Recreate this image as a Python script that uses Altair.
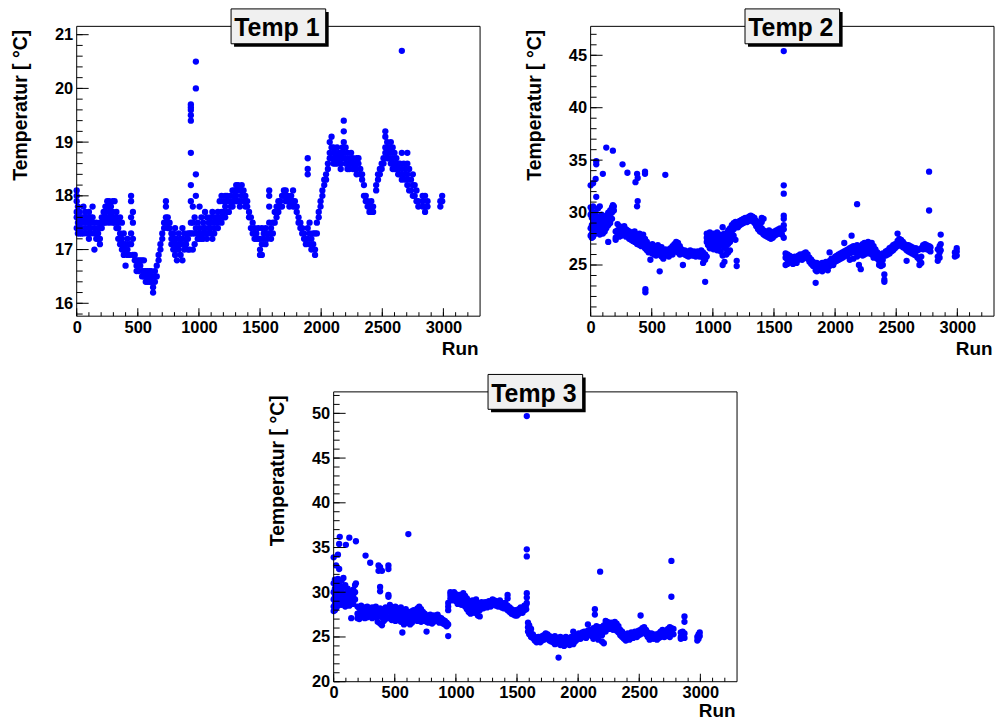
import altair as alt
import pandas as pd

BLUE = "#0000ff"
FONT = "Liberation Sans"

titles = ["Temp 1", "Temp 2", "Temp 3"]
x_title = "Run"
y_title = "Temperatur [ °C]"

x_major = [0, 500, 1000, 1500, 2000, 2500, 3000]
x_minor = list(range(0, 3300, 100))
x_domain = [0, 3300]

t1_major = [16, 17, 18, 19, 20, 21]
t1_minor = [round(15.8 + 0.2 * i, 1) for i in range(27)]
t1_domain = [15.76, 21.155]

t2_major = [25, 30, 35, 40, 45]
t2_minor = list(range(21, 48))
t2_domain = [20.12, 47.76]

t3_major = [20, 25, 30, 35, 40, 45, 50]
t3_minor = list(range(20, 53))
t3_domain = [20.0, 52.4]

# (run, [temperatures read at that run])
temp1_columns = [
    (0, [18.1, 18.0, 17.9, 17.7, 17.6, 17.4]), (10, [17.8, 17.6, 17.5, 17.3]),
    (25, [17.7, 17.5, 17.4, 17.3]), (40, [17.6, 17.4, 17.3]), (55, [17.8, 17.6, 17.5, 17.3]),
    (70, [17.7, 17.6, 17.4]), (85, [17.6, 17.5, 17.3]), (100, [17.7, 17.5, 17.4, 17.2]),
    (115, [17.6, 17.4, 17.3]), (130, [17.8, 17.6, 17.5]), (145, [17.4, 17.3, 17.0]),
    (160, [17.5, 17.3, 17.2]), (175, [17.4, 17.3, 17.2]), (190, [17.5, 17.4, 17.2, 17.1]),
    (205, [17.6, 17.5, 17.4]), (220, [17.7, 17.6, 17.5]), (235, [17.8, 17.7, 17.6, 17.5]),
    (250, [17.9, 17.8, 17.6]), (265, [17.9, 17.7, 17.5]), (280, [17.8, 17.7, 17.6]),
    (295, [17.9, 17.7, 17.5]), (310, [17.9, 17.6, 17.5]), (325, [17.7, 17.6, 17.4]),
    (340, [17.5, 17.4, 17.2]), (355, [17.6, 17.3, 17.1]), (370, [17.5, 17.2, 17.1, 17.0]),
    (385, [17.3, 17.1, 16.9]), (400, [17.1, 17.0, 16.7]), (415, [17.2, 17.0, 16.9]),
    (430, [17.1, 16.9]), (445, [18.0, 17.9, 17.6, 17.3, 17.1]), (460, [17.7, 17.5, 17.2, 16.9]),
    (475, [16.9, 16.8]), (490, [16.8, 16.7, 16.6]), (505, [16.8, 16.7, 16.6]),
    (520, [16.8, 16.7]), (535, [16.8, 16.6, 16.5]), (550, [16.8, 16.6, 16.5]),
    (565, [16.6, 16.5, 16.4]), (580, [16.6, 16.5, 16.4]), (595, [16.6, 16.5, 16.4]),
    (610, [16.6, 16.5, 16.4]), (625, [16.5, 16.3, 16.2]), (640, [16.6, 16.4]),
    (655, [16.7, 16.5]), (670, [16.9, 16.8]), (685, [17.1, 17.0]), (700, [17.3, 17.2]),
    (715, [17.5, 17.4]), (730, [17.9, 17.8, 17.6, 17.5]), (745, [17.6, 17.5, 17.4]),
    (760, [17.5, 17.4]), (775, [17.3, 17.2, 17.1]), (790, [17.3, 17.2, 17.0]),
    (805, [17.4, 17.2, 17.1, 16.9]), (820, [17.2, 17.0, 16.8]), (835, [17.3, 17.1, 17.0]),
    (850, [17.2, 17.1, 16.9]), (865, [17.4, 17.2, 16.8]), (880, [17.3, 17.1, 17.0]),
    (895, [17.2, 17.1]), (910, [17.3, 17.2, 17.0]), (925, [17.3, 17.0]),
    (934, [19.7, 19.65, 19.6, 19.5, 19.4, 18.8, 18.2, 17.9, 17.5, 17.3]),
    (950, [17.8, 17.5, 17.3, 17.0]), (965, [17.6, 17.3, 17.1]),
    (975, [20.5, 20.0, 18.4, 18.0, 17.4]), (990, [17.5, 17.3, 17.2]),
    (1005, [17.8, 17.4, 17.2]), (1020, [17.6, 17.3, 17.2]), (1035, [17.5, 17.4, 17.2]),
    (1050, [17.7, 17.4, 17.3]), (1065, [17.6, 17.3, 17.2]), (1080, [17.5, 17.4]),
    (1095, [17.6, 17.4, 17.3]), (1110, [17.7, 17.5, 17.2]), (1125, [17.6, 17.4, 17.3]),
    (1140, [17.6, 17.5]), (1155, [17.7, 17.5, 17.4]), (1170, [17.9, 17.6]),
    (1185, [18.0, 17.7, 17.5]), (1200, [17.9, 17.7, 17.6]), (1215, [18.0, 17.8, 17.6]),
    (1230, [18.0, 17.9, 17.7]), (1245, [17.9, 17.7]), (1260, [18.0, 17.8]),
    (1275, [18.1, 17.9, 17.8]), (1290, [18.1, 18.0, 17.9]), (1305, [18.2, 18.0, 17.9]),
    (1320, [18.2, 18.1, 17.9]), (1335, [18.1, 17.9, 17.8]), (1350, [18.2, 18.0]),
    (1365, [18.1, 17.9]), (1380, [18.0, 17.9, 17.8]), (1395, [17.9, 17.8]),
    (1410, [17.7, 17.6]), (1425, [17.6, 17.4]), (1440, [17.5, 17.3]), (1455, [17.4, 17.2]),
    (1470, [17.3, 17.2]), (1485, [17.4, 17.2]), (1500, [17.2, 17.0, 16.9]),
    (1515, [17.4, 17.1, 16.9]), (1530, [17.3, 17.2]), (1545, [17.4, 17.3, 17.1]),
    (1560, [17.3, 17.2]), (1575, [18.1, 18.0, 17.8, 17.5, 17.3]), (1590, [17.4, 17.2]),
    (1605, [17.5, 17.3]), (1620, [17.7, 17.5]), (1635, [17.8, 17.6]), (1650, [17.9, 17.7]),
    (1665, [17.9, 17.8]), (1680, [18.0, 17.8]), (1695, [18.1, 18.0]),
    (1710, [18.1, 18.0, 17.9]), (1725, [18.0, 17.9]), (1740, [17.9, 17.8]),
    (1755, [18.0, 17.9]), (1770, [18.1, 17.9, 17.8]), (1785, [17.9, 17.8]),
    (1800, [17.8, 17.7]), (1815, [17.6, 17.5]), (1830, [17.5, 17.4]), (1845, [17.4, 17.3]),
    (1860, [17.3, 17.2]), (1875, [17.2, 17.1]), (1890, [18.7, 18.5, 18.4, 17.4, 17.2]),
    (1905, [17.5, 17.3, 17.1]), (1920, [17.2, 17.0]), (1935, [17.3, 17.1]),
    (1950, [17.3, 17.0, 16.9]), (1965, [17.5, 17.3]), (1980, [17.7, 17.6]),
    (1995, [17.9, 17.8]), (2010, [18.1, 18.0]), (2025, [18.3, 18.2]), (2040, [18.4, 18.3]),
    (2055, [18.6, 18.5]), (2070, [19.0, 18.8, 18.7]), (2085, [19.1, 18.9, 18.7]),
    (2100, [18.9, 18.8, 18.6]), (2115, [18.8, 18.7, 18.6]), (2130, [18.9, 18.7, 18.6]),
    (2145, [18.8, 18.7]), (2160, [18.8, 18.6, 18.5]), (2175, [18.9, 18.8, 18.7]),
    (2185, [19.4, 19.2, 19.0, 18.8]), (2200, [18.9, 18.7, 18.6]), (2215, [18.8, 18.6, 18.5]),
    (2230, [18.7, 18.5]), (2245, [18.8, 18.6]), (2260, [18.7, 18.6, 18.5]),
    (2275, [18.6, 18.5]), (2290, [18.7, 18.5, 18.4]), (2305, [18.7, 18.6]),
    (2320, [18.5, 18.4]), (2335, [18.4, 18.3]), (2350, [18.2, 18.0]), (2365, [18.0, 17.9]),
    (2380, [17.9, 17.8]), (2395, [17.8, 17.7]), (2410, [17.9, 17.7]), (2425, [17.8, 17.7]),
    (2450, [18.1, 18.2]), (2465, [18.3, 18.4]), (2480, [18.5, 18.4]), (2495, [18.6, 18.5]),
    (2510, [18.7, 18.6]), (2525, [19.2, 19.1, 18.9, 18.8]), (2540, [19.0, 18.8, 18.7]),
    (2555, [18.9, 18.7]), (2570, [19.0, 18.8, 18.6]), (2585, [18.9, 18.7, 18.5]),
    (2600, [18.8, 18.6, 18.5]), (2615, [18.7, 18.5]), (2630, [18.6, 18.5, 18.4]),
    (2645, [18.6, 18.4]), (2660, [20.7, 18.8, 18.5, 18.3]), (2675, [18.6, 18.4]),
    (2690, [18.5, 18.3]), (2705, [18.8, 18.6, 18.4, 18.2]), (2720, [18.5, 18.3, 18.1]),
    (2735, [18.3, 18.1]), (2750, [18.4, 18.2, 18.0]), (2765, [18.2, 18.0]),
    (2780, [18.1, 17.9]), (2795, [17.9, 17.8]), (2830, [18.0, 17.9, 17.8]),
    (2850, [18.0, 17.8, 17.7]), (2870, [17.9, 17.8]), (2975, [17.9, 17.8]),
    (2990, [18.0, 17.9]),
]

temp2_columns = [
    (0, [30.5, 29.8, 28.5, 27.8, 32.6]), (10, [30.2, 29.5, 28.8, 28.0, 27.6]),
    (20, [30.6, 29.0, 28.3, 27.7, 32.8]), (30, [29.9, 29.1, 28.6, 27.9]),
    (41, [33.2, 30.0, 28.8, 28.1]), (46, [34.9, 34.6, 31.5, 29.4, 28.5]),
    (60, [30.4, 29.6, 28.9, 28.2]), (75, [30.6, 29.3, 28.6, 27.9]), (90, [29.8, 29.0, 28.3]),
    (100, [33.7, 29.5, 28.8, 28.0]), (115, [29.3, 28.6, 28.2]), (128, [36.2, 29.7, 29.0, 28.5]),
    (144, [27.2, 30.0, 29.3, 28.8]), (160, [30.2, 29.6, 29.0]), (175, [30.5, 30.0, 29.4]),
    (182, [35.9, 30.7]), (190, [30.6, 30.2]), (205, [28.2, 27.6, 27.4]),
    (220, [28.9, 28.3, 27.8]), (235, [28.7, 28.2, 27.7]), (250, [28.5, 28.0, 27.8]),
    (261, [34.6, 28.4, 27.9]), (275, [28.7, 28.2, 27.9]), (290, [28.4, 28.0, 27.7]),
    (301, [33.8, 28.3, 27.9]), (315, [28.2, 27.8, 27.5]), (330, [28.1, 27.7, 27.4]),
    (345, [28.0, 27.6, 27.3]), (360, [28.2, 27.8, 27.2]), (367, [32.9]),
    (380, [33.7, 30.6, 27.9, 27.4, 27.0]), (385, [31.1, 33.3]), (400, [28.0, 27.5, 26.9]),
    (415, [27.7, 27.3, 26.8]), (430, [27.9, 27.4, 27.0]), (445, [33.9, 33.7, 27.5, 27.0, 26.6]),
    (448, [22.7, 22.4]), (460, [27.2, 26.8, 26.4]), (475, [26.9, 26.5, 26.2]),
    (489, [25.5, 26.7, 26.3]), (505, [27.0, 26.6, 26.1]), (520, [26.8, 26.4, 26.0]),
    (535, [26.7, 26.2, 25.9]), (550, [26.9, 26.4, 26.0]), (565, [24.4, 26.5, 26.1]),
    (580, [26.7, 26.2, 25.8]), (595, [26.4, 26.0, 25.6]), (611, [33.6, 26.5, 26.1]),
    (625, [26.3, 25.9]), (640, [26.5, 26.0, 25.8]), (655, [26.6, 26.2]),
    (670, [26.8, 26.4, 26.0]), (685, [27.0, 26.6]), (700, [27.2, 26.8, 26.3]),
    (715, [27.1, 26.7, 26.2]), (730, [26.8, 26.4, 26.0]), (745, [26.5, 26.1]),
    (755, [25.0, 26.3]), (770, [26.4, 26.0]), (785, [26.3, 25.9]), (800, [26.2, 25.8]),
    (815, [26.4, 26.0]), (830, [26.2, 25.9]), (845, [26.3, 25.9]), (860, [26.2, 25.8]),
    (875, [26.3, 26.0]), (890, [26.1, 25.8]), (905, [26.4, 26.0]), (920, [26.2, 25.7, 25.2]),
    (937, [23.4, 26.0, 25.5]), (950, [28.0, 27.6, 27.2, 25.8]), (960, [27.8, 27.3, 26.9]),
    (975, [28.1, 27.5, 27.0, 26.6]), (990, [27.9, 27.3, 26.8]),
    (1005, [28.0, 27.6, 27.1, 26.5]), (1020, [27.7, 27.2, 26.8]),
    (1035, [28.1, 27.5, 26.9, 26.4]), (1050, [27.8, 27.2, 26.7]),
    (1065, [27.9, 27.4, 26.9, 26.3]), (1080, [28.6, 27.6, 27.0, 25.9, 25.0]),
    (1095, [28.0, 27.3, 26.7, 25.3]), (1110, [27.8, 27.1, 26.5, 26.0]),
    (1125, [28.3, 27.6, 27.0, 26.2]), (1140, [28.5, 27.9, 27.2, 26.4]),
    (1155, [28.8, 28.2, 27.5]), (1170, [29.0, 28.4, 27.8]), (1185, [29.1, 28.6, 27.4]),
    (1195, [25.4, 24.9]), (1205, [29.0, 28.6]), (1220, [29.2, 28.8]), (1235, [29.3, 28.9]),
    (1250, [29.4, 29.0]), (1265, [29.5, 29.1]), (1280, [29.4, 29.1]), (1295, [29.6, 29.2]),
    (1310, [29.7, 29.3]), (1325, [29.6, 29.2]), (1340, [29.5, 29.0]), (1355, [29.2, 28.7]),
    (1370, [29.0, 28.4]), (1385, [28.7, 28.2]), (1400, [29.5, 29.1, 28.5, 28.1]),
    (1415, [29.4, 28.3, 27.9]), (1430, [28.2, 27.8]), (1445, [28.1, 27.7]),
    (1460, [28.3, 27.6]), (1475, [28.0, 27.5]), (1490, [28.1, 27.6]), (1505, [28.2, 27.8]),
    (1520, [28.3, 27.9]), (1535, [28.4, 28.0]), (1550, [28.5, 28.0]), (1565, [28.3, 27.9]),
    (1580, [45.4, 32.6, 31.8, 29.7, 29.4, 28.8, 28.4, 27.6]),
    (1595, [26.1, 25.7, 25.0]), (1610, [26.0, 25.5, 25.1]), (1625, [25.9, 25.4]),
    (1640, [25.8, 25.3]), (1655, [25.6, 25.1]), (1670, [25.8, 25.4]), (1685, [25.6, 25.2]),
    (1700, [25.9, 25.5]), (1715, [26.0, 25.6]), (1730, [25.8, 25.5]), (1745, [26.1, 25.7]),
    (1760, [26.2, 25.8]), (1775, [26.0, 25.6]), (1790, [25.7, 25.3]), (1805, [25.5, 25.1]),
    (1820, [25.3, 24.9]), (1841, [23.3, 25.0, 24.5]), (1850, [25.2, 24.7, 24.4]),
    (1865, [24.9, 24.5]), (1880, [25.1, 24.6]), (1895, [25.2, 24.8, 24.4]),
    (1910, [25.0, 24.6]), (1925, [25.3, 24.8]), (1940, [25.1, 24.5]),
    (1955, [26.2, 25.4, 24.9]), (1970, [25.6, 25.1]), (1985, [25.5, 25.0]),
    (2000, [25.8, 25.3]), (2015, [25.9, 25.4]), (2030, [26.0, 25.5]), (2045, [26.1, 25.6]),
    (2060, [26.2, 25.7]), (2075, [27.1, 26.3, 25.8]), (2090, [26.4, 25.9]),
    (2105, [26.5, 26.0]), (2120, [26.6, 26.1, 25.5]), (2135, [27.8, 26.7, 26.2]),
    (2150, [26.8, 26.3, 25.6]), (2165, [26.7, 26.2]), (2180, [30.8, 26.9, 26.4, 25.8]),
    (2195, [26.6, 26.0, 25.0]), (2210, [26.8, 26.2, 24.6]), (2225, [27.0, 26.5, 25.9]),
    (2240, [27.1, 26.6, 26.0]), (2255, [27.0, 26.5]), (2270, [27.2, 26.7, 26.1]),
    (2285, [27.0, 26.4]), (2300, [27.1, 26.6, 26.0]), (2315, [26.8, 26.3, 25.7]),
    (2330, [26.5, 26.0]), (2345, [26.2, 25.6]), (2360, [26.0, 25.4, 25.0]),
    (2375, [25.8, 25.2, 24.9]), (2390, [26.1, 25.5, 25.0]), (2403, [24.1, 23.6, 23.4]),
    (2415, [26.3, 25.9]), (2430, [26.4, 26.0]), (2445, [26.6, 26.1]), (2460, [26.7, 26.3]),
    (2475, [26.9, 26.4]), (2490, [27.0, 26.6]), (2511, [28.0, 27.3, 26.8]),
    (2525, [27.5, 27.0]), (2540, [27.4, 26.9]), (2555, [27.2, 26.7]), (2570, [27.0, 26.6]),
    (2585, [25.4, 26.9, 26.4]), (2600, [26.9, 26.3]), (2615, [26.8, 26.2]),
    (2630, [26.7, 26.1]), (2645, [26.5, 26.0]), (2660, [26.6, 25.9]), (2675, [26.4, 25.7]),
    (2690, [26.5, 25.5, 25.0]), (2705, [26.6, 25.8, 25.2]), (2720, [26.9, 26.5]),
    (2735, [27.0, 26.6]), (2750, [26.9, 26.5]), (2769, [33.9, 30.2, 26.8, 26.4]),
    (2780, [26.7, 26.3]), (2840, [26.5, 25.8, 25.4]), (2855, [26.8, 26.2, 25.7]),
    (2864, [27.9, 27.0, 26.4]), (2980, [26.2, 25.8]), (2995, [26.6, 26.3, 25.9]),
]

temp3_columns = [
    (0, [33.9, 31.0, 30.0, 29.2, 28.4, 27.9]), (10, [31.4, 30.4, 29.5, 28.7, 28.0]),
    (20, [33.0, 30.8, 29.8, 28.9, 28.2]), (35, [34.2, 31.5, 30.2, 29.3, 28.5]),
    (45, [35.4, 32.6, 31.0, 29.7, 28.8]), (50, [36.2, 30.5, 29.0]),
    (65, [31.3, 30.1, 29.3, 28.6]), (80, [31.6, 30.6, 29.6, 28.8]),
    (95, [30.8, 29.9, 29.1, 28.4]), (100, [35.3]), (115, [30.4, 29.6, 28.7]),
    (128, [36.1, 30.1, 29.2, 28.5]), (144, [27.1, 29.8, 28.9]), (160, [30.3, 29.5, 28.7]),
    (175, [30.8, 30.0, 29.2]), (182, [35.7, 31.0]), (195, [28.4, 27.6, 27.1]),
    (210, [28.2, 27.5, 27.0]), (225, [28.5, 27.8, 27.2]), (240, [28.1, 27.4]),
    (255, [28.3, 27.7, 27.1]), (261, [34.1]), (275, [28.4, 27.8, 27.2]), (290, [28.2, 27.5]),
    (299, [33.3, 28.0, 27.3]), (315, [28.3, 27.7, 27.1]), (330, [28.1, 27.4]),
    (345, [28.4, 27.8, 27.2]), (360, [28.0, 27.3, 26.7]), (367, [33.0, 32.4]),
    (380, [30.6, 30.1, 32.8, 28.2, 27.5, 26.5]), (395, [32.4, 27.9, 27.2, 26.3]),
    (410, [28.1, 27.4, 26.8]), (425, [28.3, 27.6, 27.0]), (440, [28.0, 27.2]),
    (448, [33.0, 32.6, 29.7, 29.5]), (460, [28.6, 27.8, 27.1]), (475, [28.3, 27.5, 26.9]),
    (490, [28.0, 27.3]), (505, [28.4, 27.6, 26.8]), (520, [28.2, 27.4, 26.9]),
    (535, [27.9, 27.2]), (550, [28.3, 27.5, 26.7]), (562, [25.5, 28.0, 27.2]),
    (575, [27.7, 27.0, 26.4]), (590, [28.1, 27.3, 26.6]), (611, [36.5, 27.8, 27.0]),
    (625, [27.6, 26.9, 26.4]), (640, [27.9, 27.2, 26.6]), (655, [28.0, 27.4]),
    (670, [27.7, 26.9]), (685, [28.2, 27.5, 26.8]), (700, [28.4, 27.7, 27.0]),
    (715, [28.1, 27.3, 26.7]), (730, [27.8, 27.0]), (745, [27.6, 26.8]),
    (760, [25.6, 27.4, 26.7]), (775, [27.3, 26.6]), (790, [27.5, 26.8]), (805, [27.2, 26.5]),
    (820, [27.4, 26.7]), (835, [27.3, 26.9]), (850, [27.5, 26.8]), (865, [27.2, 26.6]),
    (880, [27.1, 26.7]), (895, [26.9, 26.5]), (910, [26.8, 26.4]), (925, [26.6, 26.2]),
    (937, [25.1, 28.8, 28.4, 28.0, 26.4]), (955, [30.0, 29.7, 29.3]),
    (970, [29.9, 29.5, 29.1]), (985, [30.0, 29.6, 29.2]), (1000, [29.8, 29.4, 29.0]),
    (1015, [29.6, 29.2, 28.7]), (1030, [29.7, 29.3, 28.9]), (1045, [29.5, 29.1, 28.6]),
    (1060, [29.9, 29.4, 28.9]), (1075, [29.6, 29.0, 28.4]), (1090, [29.3, 28.8, 28.1]),
    (1105, [29.0, 28.4, 27.8]), (1120, [28.8, 28.2, 27.6]), (1135, [29.1, 28.5, 27.8]),
    (1150, [28.9, 28.3, 27.7]), (1165, [29.2, 28.6, 28.0]), (1180, [28.8, 28.1, 27.4]),
    (1195, [28.6, 28.0, 27.3]), (1210, [28.9, 28.4]), (1225, [28.7, 28.2]),
    (1240, [28.9, 28.4]), (1255, [28.8, 28.3]), (1270, [29.0, 28.5]), (1285, [28.9, 28.4]),
    (1300, [29.2, 28.7]), (1315, [29.1, 28.6]), (1330, [29.0, 28.5]), (1345, [28.9, 28.4]),
    (1360, [29.1, 28.6]), (1375, [28.8, 28.3]), (1390, [28.7, 28.2]), (1405, [28.8, 28.2]),
    (1423, [29.7, 29.3, 28.5, 28.0]), (1440, [28.3, 27.8]), (1455, [28.1, 27.6]),
    (1470, [27.9, 27.5]), (1485, [28.0, 27.4]), (1500, [27.8, 27.4]), (1515, [28.1, 27.6]),
    (1530, [28.3, 27.8]), (1545, [28.2, 27.7]), (1560, [28.5, 28.0]), (1575, [28.6, 28.1]),
    (1580, [49.7, 34.8, 34.0, 29.9, 29.4, 28.8]), (1590, [26.6, 26.1, 25.6]),
    (1600, [26.3, 25.8, 25.3]), (1615, [25.9, 25.4, 25.0]), (1630, [25.3, 24.9]),
    (1645, [25.0, 24.6]), (1660, [24.8, 24.4]), (1675, [25.0, 24.5]), (1690, [24.9, 24.4]),
    (1705, [25.1, 24.6]), (1720, [25.2, 24.7]), (1735, [25.4, 24.9]), (1750, [25.3, 24.8]),
    (1765, [25.1, 24.6]), (1780, [25.0, 24.5]), (1795, [24.9, 24.4]),
    (1810, [25.1, 24.6, 24.2]), (1825, [24.8, 24.3]), (1840, [22.7, 24.9, 24.4]),
    (1855, [25.0, 24.5, 24.1]), (1870, [24.8, 24.3]), (1885, [24.9, 24.4, 24.0]),
    (1900, [25.0, 24.6, 24.2]), (1915, [24.8, 24.3]), (1930, [24.9, 24.5, 24.1]),
    (1945, [25.0, 24.4]), (1960, [25.6, 24.8, 24.2]), (1975, [25.0, 24.5]),
    (1990, [25.2, 24.7]), (2005, [25.4, 24.9]), (2020, [25.3, 24.8]), (2035, [25.5, 25.0]),
    (2050, [25.6, 25.1]), (2065, [25.4, 24.9]), (2080, [26.4, 25.7, 25.2]),
    (2095, [25.8, 25.3]), (2110, [25.7, 25.1]), (2125, [26.0, 25.4, 24.8]),
    (2137, [28.1, 27.5, 25.9, 25.2]), (2150, [26.2, 25.6, 24.9]), (2165, [26.0, 25.5, 24.7]),
    (2180, [32.3, 26.1, 25.4]), (2195, [25.9, 25.2, 24.5]), (2210, [26.3, 25.6, 24.3]),
    (2225, [26.8, 26.2, 25.6]), (2240, [26.7, 26.0]), (2255, [26.5, 25.9]),
    (2270, [26.6, 26.1]), (2285, [26.4, 25.8]), (2300, [26.7, 26.0]), (2315, [26.5, 25.7]),
    (2330, [26.2, 25.5]), (2345, [25.8, 25.2]), (2360, [25.6, 25.0]), (2375, [25.3, 24.8]),
    (2390, [25.1, 24.6]), (2405, [25.4, 24.9]), (2420, [25.2, 24.7]), (2435, [25.5, 25.0]),
    (2450, [25.3, 24.9]), (2465, [25.6, 25.1]), (2480, [25.4, 25.0]), (2495, [25.7, 25.2]),
    (2511, [27.4, 25.8, 25.3]), (2525, [26.0, 25.5]), (2540, [26.1, 25.6]),
    (2555, [25.8, 25.3]), (2570, [25.5, 25.0]), (2585, [25.3, 24.7]), (2600, [25.4, 24.9]),
    (2615, [25.2, 24.8]), (2630, [25.3, 24.9]), (2645, [25.2, 24.7]), (2660, [25.4, 24.9]),
    (2675, [25.6, 25.0]), (2690, [25.8, 25.2]), (2705, [25.5, 25.0]), (2720, [25.7, 25.1]),
    (2735, [25.9, 25.3]), (2750, [26.1, 25.5, 25.0]), (2763, [33.5, 29.5, 26.0, 25.4]),
    (2780, [25.9, 25.3]), (2840, [25.5, 25.0, 24.8]), (2855, [25.6, 25.1, 24.9]),
    (2870, [27.3, 26.7, 25.4, 24.9]), (2975, [25.0, 24.6]), (2985, [25.3, 24.8]),
    (2995, [25.5, 25.1]),
]

W, H = 405, 291
GAP_X, GAP_Y = 111, 76
SHIFT3 = 258  # horizontal offset of the lower panel inside its cell


def to_frame(columns):
    rows = [(r, t) for r, temps in columns for t in temps]
    return pd.DataFrame(rows, columns=["run", "temp"])


def panel(columns, y_domain, y_major, y_minor, title, run_title_y, dx=0, anchor=False):
    xs = alt.Scale(domain=x_domain, range=[dx, dx + W], nice=False, zero=False)
    ys = alt.Scale(domain=y_domain, nice=False, zero=False)
    y_minor_in = [v for v in y_minor if y_domain[0] <= v <= y_domain[1]]

    x_axis = alt.Axis(
        values=x_major, format="d", title=x_title, grid=False, domain=False,
        ticks=False, tickSize=0, labelPadding=3, labelFlush=False, labelOverlap=False,
        labelFont=FONT, labelFontSize=16.5, labelFontWeight="bold", labelColor="black",
        titleFont=FONT, titleFontSize=19, titleFontWeight="bold", titleColor="black",
        titleX=dx + W - 2, titleY=run_title_y, titleAlign="right", titleBaseline="alphabetic",
    )
    y_axis = alt.Axis(
        values=y_major, format="d", title=y_title, grid=False, domain=False, offset=-dx,
        ticks=False, tickSize=0, labelPadding=4, labelFlush=False, labelOverlap=False,
        labelFont=FONT, labelFontSize=16.5, labelFontWeight="bold", labelColor="black",
        titleFont=FONT, titleFontSize=19.5, titleFontWeight="bold", titleColor="black",
        titleAngle=270, titleX=-50, titleY=3, titleAlign="right", titleBaseline="alphabetic",
    )

    pts = alt.Chart(to_frame(columns)).mark_circle(size=40, color=BLUE, opacity=1).encode(
        x=alt.X("run:Q", scale=xs, axis=x_axis),
        y=alt.Y("temp:Q", scale=ys, axis=y_axis),
    )

    def xticks(vals, length):
        return alt.Chart(pd.DataFrame({"run": vals})).mark_rule(color="black", strokeWidth=1).encode(
            x=alt.X("run:Q", scale=xs, axis=x_axis), y=alt.value(H), y2=alt.value(H - length)
        )

    def yticks(vals, length):
        return alt.Chart(pd.DataFrame({"temp": vals})).mark_rule(color="black", strokeWidth=1).encode(
            y=alt.Y("temp:Q", scale=ys, axis=y_axis), x=alt.value(dx), x2=alt.value(dx + length)
        )

    tdf = pd.DataFrame({"t": [title]})
    frame = alt.Chart(tdf).mark_rect(fillOpacity=0, stroke="black", strokeWidth=1).encode(
        x=alt.value(dx), x2=alt.value(dx + W), y=alt.value(0), y2=alt.value(H)
    )
    shadow = alt.Chart(tdf).mark_rect(color="black").encode(
        x=alt.value(dx + 158), x2=alt.value(dx + 253), y=alt.value(-14.5), y2=alt.value(20.5)
    )
    box = alt.Chart(tdf).mark_rect(fill="#f0f0f0", stroke="black", strokeWidth=1).encode(
        x=alt.value(dx + 155), x2=alt.value(dx + 250), y=alt.value(-17.5), y2=alt.value(17.5)
    )
    txt = alt.Chart(tdf).mark_text(
        font=FONT, fontSize=25, fontWeight="bold", color="black", align="center", baseline="alphabetic"
    ).encode(x=alt.value(dx + 201), y=alt.value(10), text="t:N")

    layers = [pts, frame, xticks(x_minor, 4), xticks(x_major, 8), yticks(y_minor_in, 6),
              yticks(y_major, 12), shadow, box, txt]
    if anchor:
        layers.append(
            alt.Chart(tdf).mark_rect(opacity=0).encode(
                x=alt.value(-77), x2=alt.value(-76), y=alt.value(-25), y2=alt.value(-24)
            )
        )
    return alt.layer(*layers).properties(width=W, height=H)


p1 = panel(temp1_columns, t1_domain, t1_major, t1_minor, titles[0], 38, anchor=True)
p2 = panel(temp2_columns, t2_domain, t2_major, t2_minor, titles[1], 38)
p3 = panel(temp3_columns, t3_domain, t3_major, t3_minor, titles[2], 35, dx=SHIFT3)

chart = alt.concat(
    p1, p2, p3, columns=2, spacing={"row": GAP_Y, "column": GAP_X}, bounds="flush",
).properties(padding=0, background="white").configure_view(strokeOpacity=0, fill="white")

chart.save("out.html", embed_options={"renderer": "svg", "actions": False})
